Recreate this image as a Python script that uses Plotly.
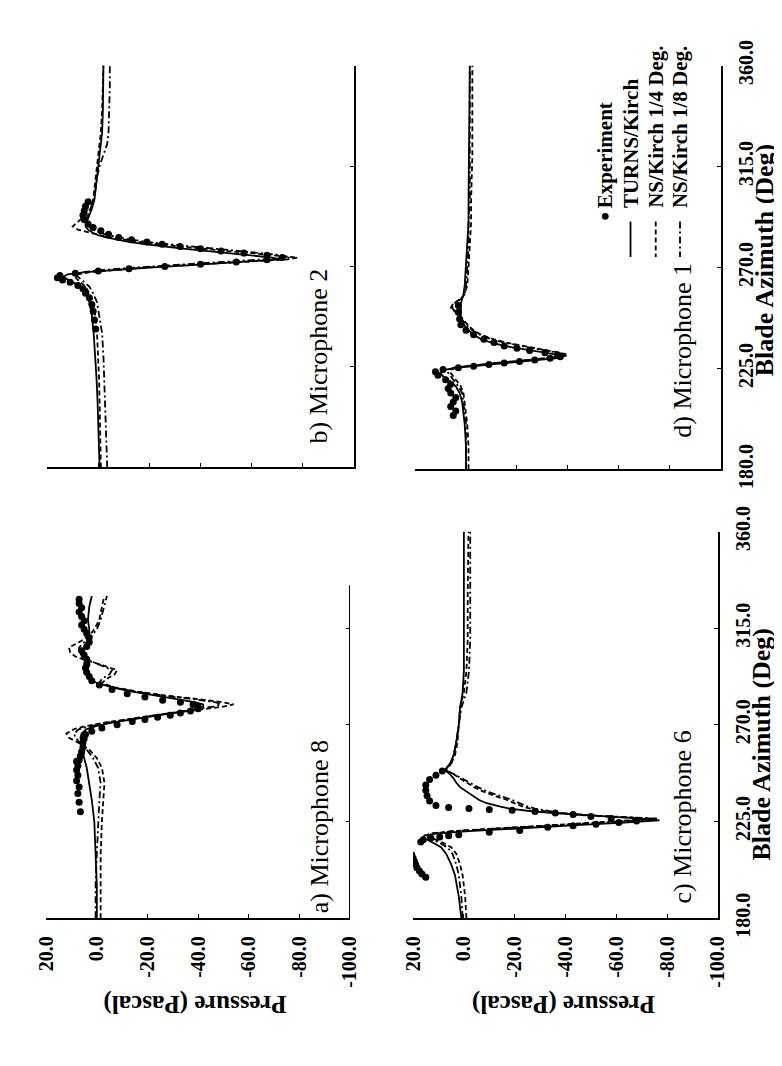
import plotly.graph_objects as go

# ---------------- data ----------------
press_ticks = [20, 0, -20, -40, -60, -80, -100]
press_labels = ["20.0", "0.0", "-20.0", "-40.0", "-60.0", "-80.0", "-100.0"]
az_ticks = [180, 225, 270, 315, 360]
az_labels = ["180.0", "225.0", "270.0", "315.0", "360.0"]

legend_names = ["Experiment", "TURNS/Kirch", "NS/Kirch 1/4 Deg.", "NS/Kirch 1/8 Deg."]
panel_titles = ["a) Microphone 8", "b) Microphone 2", "c) Microphone 6", "d) Microphone 1"]

# b) Microphone 2
az_b = [180, 190, 200, 210, 220, 230, 240, 248, 254, 258, 261, 263, 264.5, 265.5, 266.5, 267.5, 268.5,
        269.5, 270.5, 271.5, 272.5, 273.2, 274, 275, 276, 277, 278, 279, 280, 281, 282, 283, 284, 285,
        286.5, 288, 290, 293, 296, 300, 305, 310, 315, 320, 325, 330, 340, 350, 360]
turns_b = [-0.5, -0.3, 0, 0.3, 0.7, 1.2, 1.8, 2.5, 3.5, 5, 7, 10, 12.5, 13.5, 12, 5, -6,
           -20, -35, -50, -63, -71, -68, -60, -51, -42, -33, -25, -18, -12, -7, -3, 0, 2,
           4, 5, 4.5, 3.5, 2.5, 1.5, 1, 0.5, 0, -0.5, -1, -1.5, -1.8, -2, -2]
ns14_b = [-1, -0.9, -0.8, -0.5, -0.3, 0, 0.5, 1.2, 2, 3.5, 5, 7, 8.5, 9, 8, 3, -6,
          -18, -33, -48, -62, -74, -78, -70, -60, -50, -40, -31, -23, -16, -10, -5, -1, 3,
          8, 10, 8, 5, 3, 2, 1.5, 1, 0.5, 0, -0.5, -1, -1.5, -1.8, -2]
ns18_b = [-3.5, -3.2, -3, -2.8, -2.5, -2, -1.5, -0.5, 0.5, 2, 3.5, 5.5, 7, 8, 9, 6, -2,
          -14, -28, -43, -58, -68, -75, -72, -63, -53, -43, -34, -26, -19, -13, -8, -4, -1,
          2, 4, 5, 4, 3, 2, 1, 0.5, -0.5, -2, -3.5, -4, -4.3, -4.5, -4.5]
az_b_exp = [242, 246, 250, 253, 256, 258, 260, 261.5, 263, 264, 265, 266, 267, 268, 269, 270, 271,
            272, 273, 274, 275, 276, 277, 278, 279, 280, 281, 282, 283, 284.5, 286, 287.5, 289,
            291, 293, 295, 297, 299]
exp_b = [1, 1.5, 2, 2.5, 3.5, 5, 6, 8, 11, 14, 16, 15, 9, 0, -12, -26, -40,
         -54, -66, -72, -66, -57, -48, -40, -32, -25, -19, -13, -8, -4, -1, 2, 4,
         5.5, 6, 5.5, 5, 4]

# d) Microphone 1
az_d = [180, 190, 200, 205, 210, 214, 217, 219.5, 221.5, 223, 224.5, 225.5, 226.5, 227.5, 228.5,
        229.5, 230.3, 231, 232, 233, 234, 235, 236.5, 238, 240, 242, 244, 246, 248, 250, 252, 254,
        256, 258, 262, 270, 280, 290, 300, 320, 340, 360]
turns_d = [0, 0, 0.5, 1, 1.5, 2.5, 4, 6.5, 9, 10, 8, 2, -8, -18, -28,
           -35, -38, -36, -31, -25, -20, -15, -10, -6, -3, -1, 0.5, 1.5, 2, 2, 2, 2,
           1.5, 1, 0.5, 0, -0.5, -1, -1, -1.2, -1.5, -1.5]
ns14_d = [-1, -1, -0.5, 0, 0.5, 1, 2, 3.5, 5, 6, 6, 3, -4, -13, -23,
          -32, -38, -40, -37, -32, -27, -22, -16, -11, -6, -3, -1, 0.5, 2, 4, 6, 5,
          2, 0.5, -0.5, -1, -1.5, -2, -2, -2.5, -2.5, -2.5]
ns18_d = [0, 0, 0, 0.5, 1, 1.5, 3, 4.5, 6, 7, 7, 4, -3, -12, -22,
          -31, -37, -39, -36, -31, -26, -21, -15, -10, -5.5, -2.5, -0.5, 1, 2.5, 4, 5.5, 4.5,
          2, 0.5, 0, -0.5, -1, -1, -1.5, -1.5, -1.5, -1.5]
az_d_exp = [204, 206, 208, 210, 212, 214, 216, 218, 220, 222, 223.5, 224.5, 225.3, 226, 226.7,
            227.4, 228.1, 228.8, 229.5, 230.2, 231, 232, 233, 234, 235, 236.5, 238, 240, 242,
            244.5, 247, 250, 253]
exp_d = [5, 4, 6, 5, 4, 6, 7, 6, 8, 11, 12, 9, 3, -3, -9,
         -15, -21, -27, -33, -37, -36, -31, -25, -20, -15, -11, -7, -3, 0,
         2, 2.5, 3, 3]

# a) Microphone 8
az_a = [180, 195, 210, 225, 235, 243, 250, 254.5, 258.5, 261.5, 264, 266, 268, 269.5, 271, 272.5,
        274, 275.5, 277, 278.5, 279.5, 280.5, 282, 283.5, 285.5, 287.5, 289.5, 291.5, 293.5, 295.5,
        297.5, 299.5, 301.5, 303.5, 306, 308.5, 311.5, 314.5, 319, 325, 330]
turns_a = [0, 0, 0.5, 1, 2, 3, 4, 5, 5.5, 6, 6.5, 6, 4, 0, -6, -14,
           -23, -31, -38, -42, -42, -39, -32, -24, -14, -6, 0, 3, 4, 4, 3, 3, 4,
           5, 5, 4, 3, 3, 3.5, 3, 2]
ns14_a = [-1.5, -1.5, -1.5, -2, -2.5, -3, -2, 0, 3, 7, 11, 12, 9, 4, -3, -11,
          -20, -30, -40, -50, -54, -50, -40, -28, -16, -7, -2, -4, -7, -8, -3, 3, 8,
          10.5, 11, 7, 3, 1, -1, -2, -3]
ns18_a = [0.5, 0.5, 0, -0.5, -1, -1.5, -0.5, 1.5, 4, 6.5, 8.5, 9, 7, 2, -4, -12,
          -21, -30, -39, -46, -49, -47, -38, -27, -15, -6, -1, -2, -5, -6, -2, 2, 5,
          7, 7, 5, 2, 0, -1.5, -3, -4]
az_a_exp = [229.5, 234, 238, 241, 244, 246.5, 249, 251, 253, 253.5, 255.5, 257.5, 259.5, 261.5,
            263.5, 265.5, 267, 268.5, 270, 271.5, 272.5, 273.5, 274.5, 275.5, 276.5, 277.5, 278.5,
            279.5, 280.5, 281.5, 283, 284.5, 286.5, 288.5, 290.5, 292.5, 294.5, 296.5, 298.5,
            300.5, 302.5, 304.5, 306.5, 308.5, 310.5, 312.5, 314.5, 316.5, 318.5, 320.5, 322.5,
            324.5, 326.5, 328.5]
exp_a = [6.5, 7, 7.5, 7, 8, 7.5, 8, 7.5, 8, 7, 6.5, 6, 5.5, 5.5, 5, 4.5,
         2, -2, -8, -14, -19, -24, -29, -33, -37, -40, -40, -38, -33, -26, -19, -12,
         -6, -1, 2, 3, 4, 4.5, 4, 4, 5, 6, 4, 3, 3, 4, 5, 6, 5,
         6, 7, 6, 7, 7]

# c) Microphone 6
az_c = [180, 190, 200, 205, 210, 213, 215, 216.5, 217.5, 218.5, 219.5, 220.5, 221.5, 222.5, 223.5,
        224.5, 225.5, 226.3, 227, 228, 229, 230, 231, 232, 233.5, 235, 237, 239, 241, 243, 245,
        247, 249, 252, 256, 262, 270, 278, 285, 295, 310, 330, 360]
turns_c = [1, 2, 3.5, 5, 7, 9, 12, 14.5, 16, 15.5, 10, -2, -16, -32, -48,
           -63, -77, -70, -60, -45, -34, -25, -18, -14, -9, -6, -3.5, -1, 1.5, 3, 4,
           5.5, 7.5, 5.5, 4, 3, 2, 1.5, 0.5, 0, 0, 0, 0]
ns14_c = [-1, -0.5, 0.5, 1.5, 3, 5, 8, 11, 13, 14, 12, 4, -8, -23, -38,
          -52, -66, -76, -62, -46, -36, -30, -26, -23, -20, -17, -12, -7.5, -4, -1, 1.5,
          4, 7.5, 5, 3.5, 2.5, 2, 1.5, 0, -1, -1.5, -1.5, -1.8]
ns18_c = [0.5, 1, 2, 3, 4.5, 6.5, 9.5, 12, 14, 15, 12.5, 4, -9, -25, -40,
          -55, -68, -76, -64, -48, -38, -32, -28, -25, -22, -19, -14, -9, -5.5, -2.5, 0.5,
          3.5, 7, 5, 4, 3, 2, 1, -1, -2, -2.5, -2.5, -2.5]
az_c_exp = [199, 200.5, 202, 203.5, 205, 206.5, 208, 209.5, 215.5, 216.5, 217.3, 217.8, 218.3,
            218.8, 220, 220.8, 222.3, 223, 223.7, 224.5, 225.2, 226.4, 227.3, 228.2, 228.9,
            229.6, 230.2, 230.6, 231, 231.5, 232.5, 234.5, 237, 239.5, 242, 244.5, 246.5, 248.5]
exp_c = [15, 16.5, 17.5, 18.5, 19, 19.5, 20, 20.5, 17, 16, 13, 9.5, 6,
         2, -10, -22, -33, -43, -52, -61, -68, -58, -50, -43, -36,
         -28, -19, -10, -2, 6, 11, 13.5, 14.5, 15, 15, 13.5, 11, 8.5]

# ---------------- layout helpers ----------------
W, H = 782, 1066
FONT = "Liberation Serif"


def fx(p):
    return p / W


def fy(p):
    return 1 - p / H


# panel: (name, az, turns, ns14, ns18, az_exp, exp, x-domain px, y-domain px (top,bottom),
#         show pressure labels, show azimuth labels)
panels = [
    ("b", az_b, turns_b, ns14_b, ns18_b, az_b_exp, exp_b, (28, 344), (33, 453), False, False),
    ("d", az_d, turns_d, ns14_d, ns18_d, az_d_exp, exp_d, (407, 722), (33, 455), False, True),
    ("a", az_a, turns_a, ns14_a, ns18_a, az_a_exp, exp_a, (27, 340), (520, 924), True, False),
    ("c", az_c, turns_c, ns14_c, ns18_c, az_c_exp, exp_c, (405, 719), (520, 924), True, True),
]

fig = go.Figure()
layout = dict(
    width=W, height=H,
    margin=dict(l=0, r=0, t=0, b=0),
    paper_bgcolor="white", plot_bgcolor="white",
    showlegend=False,
    font=dict(family=FONT, color="black"),
)

LW = 1.8
DASH14 = "5px,3px"
DASH18 = "7px,3px,2px,3px"
shapes = []

for i, (name, az, tu, n14, n18, aze, ex, xd, yd, showp, showa) in enumerate(panels):
    k = "" if i == 0 else str(i + 1)
    xa, ya = "x" + k, "y" + k
    fig.add_trace(go.Scatter(x=n18, y=az, mode="lines", xaxis=xa, yaxis=ya,
                             line=dict(color="black", width=LW, dash=DASH18), name=legend_names[3]))
    fig.add_trace(go.Scatter(x=n14, y=az, mode="lines", xaxis=xa, yaxis=ya,
                             line=dict(color="black", width=LW, dash=DASH14), name=legend_names[2]))
    fig.add_trace(go.Scatter(x=tu, y=az, mode="lines", xaxis=xa, yaxis=ya,
                             line=dict(color="black", width=LW), name=legend_names[1]))
    fig.add_trace(go.Scatter(x=ex, y=aze, mode="markers", xaxis=xa, yaxis=ya,
                             marker=dict(color="black", size=7), name=legend_names[0]))
    axis_line_on_y = name != "a"
    layout["xaxis" + k] = dict(
        domain=[fx(xd[0]), fx(xd[1])], anchor=ya, range=[20, -100],
        showline=True, linecolor="black", linewidth=2,
        ticks="inside", ticklen=4, tickwidth=1, tickcolor="black",
        tickvals=press_ticks, ticktext=press_labels, showticklabels=showp,
        tickangle=-90, tickfont=dict(family=FONT, size=20, color="black", weight="bold"),
        ticklabelstandoff=8,
        showgrid=False, zeroline=False, fixedrange=True,
    )
    layout["yaxis" + k] = dict(
        domain=[fy(yd[1]), fy(yd[0])], anchor=xa, range=[180, 360], side="right",
        showline=axis_line_on_y, linecolor="black", linewidth=2,
        ticks="inside", ticklen=4, tickwidth=1, tickcolor="black",
        tickvals=az_ticks, ticktext=az_labels, showticklabels=showa,
        tickangle=-90, tickfont=dict(family=FONT, size=20, color="black", weight="bold"),
        ticklabelstandoff=6,
        showgrid=False, zeroline=False, fixedrange=True,
    )
    if name == "a":
        shapes.append(dict(type="line", xref=xa, yref=ya, x0=-100, x1=-100, y0=180, y1=335,
                           line=dict(color="black", width=2)))

annotations = []


def rot_text(text, x, y, size, angle, bold=False, xanchor="center", yanchor="middle"):
    if bold:
        text = "<b>" + text + "</b>"
    annotations.append(dict(text=text, x=fx(x), y=fy(y), xref="paper", yref="paper",
                            xanchor=xanchor, yanchor=yanchor, showarrow=False,
                            textangle=angle, font=dict(family=FONT, size=size, color="black")))


# panel labels
label_pos = {"a": (308, 828), "b": (308, 336), "c": (683, 818), "d": (683, 330)}
for t in panel_titles:
    x, y = label_pos[t[0]]
    rot_text(t, x, y, 26, -90)

# axis titles
for (x, y) in [(767, 236), (764, 742)]:
    rot_text("Blade Azimuth (Deg)", x, y, 26, -90, bold=True)
for (x, y) in [(180, 1013), (560, 1013)]:
    rot_text("Pressure (Pascal)", x, y, 25, 180, bold=True)

# legend inside panel d (rotated)
leg_x = [603, 629, 655, 680]
leg_text_bottom = 184
for j, nm in enumerate(legend_names):
    rot_text(nm, leg_x[j], leg_text_bottom, 21, -90, bold=True, yanchor="bottom")
shapes.append(dict(type="circle", xref="paper", yref="paper",
                   x0=fx(leg_x[0] - 3.5), x1=fx(leg_x[0] + 3.5), y0=fy(194), y1=fy(187),
                   fillcolor="black", line=dict(color="black", width=0)))
for j, dash in [(1, "solid"), (2, DASH14), (3, DASH18)]:
    shapes.append(dict(type="line", xref="paper", yref="paper",
                       x0=fx(leg_x[j]), x1=fx(leg_x[j]), y0=fy(196), y1=fy(233),
                       line=dict(color="black", width=LW, dash=dash)))

layout["annotations"] = annotations
layout["shapes"] = shapes
fig.update_layout(**layout)

fig.write_html("out.html")
